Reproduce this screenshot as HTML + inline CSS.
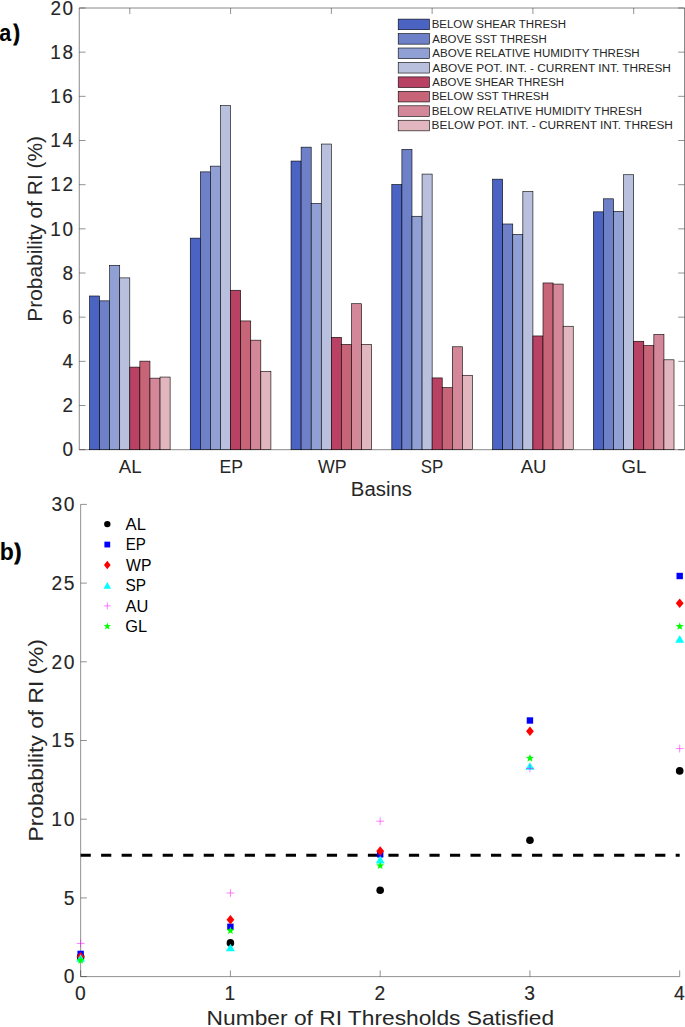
<!DOCTYPE html>
<html><head><meta charset="utf-8"><style>
html,body{margin:0;padding:0;background:#fff;overflow:hidden;width:685px;height:1027px;}
svg{display:block;font-family:"Liberation Sans",sans-serif;}
</style></head><body>
<svg width="685" height="1027" viewBox="0 0 685 1027">
<rect width="685" height="1027" fill="#fff"/>
<g stroke="#262626" stroke-width="0.5" fill="none">
<path d="M79.25 8 H684.5 M79.25 449.7 H684.5 M79.25 8 V449.7 M684.5 8 V449.7" stroke-width="0.55"/>
<path d="M79.25 449.70 h6.3 M684.5 449.70 h-6.3"/>
<path d="M79.25 405.53 h6.3 M684.5 405.53 h-6.3"/>
<path d="M79.25 361.36 h6.3 M684.5 361.36 h-6.3"/>
<path d="M79.25 317.19 h6.3 M684.5 317.19 h-6.3"/>
<path d="M79.25 273.02 h6.3 M684.5 273.02 h-6.3"/>
<path d="M79.25 228.85 h6.3 M684.5 228.85 h-6.3"/>
<path d="M79.25 184.68 h6.3 M684.5 184.68 h-6.3"/>
<path d="M79.25 140.51 h6.3 M684.5 140.51 h-6.3"/>
<path d="M79.25 96.34 h6.3 M684.5 96.34 h-6.3"/>
<path d="M79.25 52.17 h6.3 M684.5 52.17 h-6.3"/>
<path d="M79.25 8.00 h6.3 M684.5 8.00 h-6.3"/>
<path d="M129.80 8 v6 M129.80 449.7 v-6"/>
<path d="M230.58 8 v6 M230.58 449.7 v-6"/>
<path d="M331.36 8 v6 M331.36 449.7 v-6"/>
<path d="M432.14 8 v6 M432.14 449.7 v-6"/>
<path d="M532.92 8 v6 M532.92 449.7 v-6"/>
<path d="M633.70 8 v6 M633.70 449.7 v-6"/>
</g>
<g stroke="#000" stroke-width="0.6">
<rect x="89.48" y="295.99" width="10.08" height="153.71" fill="#4b64c3"/>
<rect x="99.56" y="300.85" width="10.08" height="148.85" fill="#6e80c8"/>
<rect x="109.64" y="265.29" width="10.08" height="184.41" fill="#91a0d4"/>
<rect x="119.72" y="277.88" width="10.08" height="171.82" fill="#b9c0de"/>
<rect x="129.80" y="367.10" width="10.08" height="82.60" fill="#b94164"/>
<rect x="139.88" y="361.14" width="10.08" height="88.56" fill="#c86478"/>
<rect x="149.96" y="378.14" width="10.08" height="71.56" fill="#d48798"/>
<rect x="160.04" y="377.04" width="10.08" height="72.66" fill="#e1b6be"/>
<rect x="190.26" y="238.13" width="10.08" height="211.57" fill="#4b64c3"/>
<rect x="200.34" y="171.87" width="10.08" height="277.83" fill="#6e80c8"/>
<rect x="210.42" y="166.13" width="10.08" height="283.57" fill="#91a0d4"/>
<rect x="220.50" y="105.62" width="10.08" height="344.08" fill="#b9c0de"/>
<rect x="230.58" y="290.25" width="10.08" height="159.45" fill="#b94164"/>
<rect x="240.66" y="320.94" width="10.08" height="128.76" fill="#c86478"/>
<rect x="250.74" y="340.16" width="10.08" height="109.54" fill="#d48798"/>
<rect x="260.82" y="371.30" width="10.08" height="78.40" fill="#e1b6be"/>
<rect x="291.04" y="161.05" width="10.08" height="288.65" fill="#4b64c3"/>
<rect x="301.12" y="147.14" width="10.08" height="302.56" fill="#6e80c8"/>
<rect x="311.20" y="203.45" width="10.08" height="246.25" fill="#91a0d4"/>
<rect x="321.28" y="144.04" width="10.08" height="305.66" fill="#b9c0de"/>
<rect x="331.36" y="337.29" width="10.08" height="112.41" fill="#b94164"/>
<rect x="341.44" y="344.35" width="10.08" height="105.35" fill="#c86478"/>
<rect x="351.52" y="303.72" width="10.08" height="145.98" fill="#d48798"/>
<rect x="361.60" y="344.35" width="10.08" height="105.35" fill="#e1b6be"/>
<rect x="391.82" y="184.46" width="10.08" height="265.24" fill="#4b64c3"/>
<rect x="401.90" y="149.34" width="10.08" height="300.36" fill="#6e80c8"/>
<rect x="411.98" y="216.26" width="10.08" height="233.44" fill="#91a0d4"/>
<rect x="422.06" y="174.08" width="10.08" height="275.62" fill="#b9c0de"/>
<rect x="432.14" y="377.92" width="10.08" height="71.78" fill="#b94164"/>
<rect x="442.22" y="387.64" width="10.08" height="62.06" fill="#c86478"/>
<rect x="452.30" y="346.78" width="10.08" height="102.92" fill="#d48798"/>
<rect x="462.38" y="375.27" width="10.08" height="74.43" fill="#e1b6be"/>
<rect x="492.60" y="179.16" width="10.08" height="270.54" fill="#4b64c3"/>
<rect x="502.68" y="223.99" width="10.08" height="225.71" fill="#6e80c8"/>
<rect x="512.76" y="234.37" width="10.08" height="215.33" fill="#91a0d4"/>
<rect x="522.84" y="191.53" width="10.08" height="258.17" fill="#b9c0de"/>
<rect x="532.92" y="335.96" width="10.08" height="113.74" fill="#b94164"/>
<rect x="543.00" y="282.96" width="10.08" height="166.74" fill="#c86478"/>
<rect x="553.08" y="284.06" width="10.08" height="165.64" fill="#d48798"/>
<rect x="563.16" y="326.24" width="10.08" height="123.46" fill="#e1b6be"/>
<rect x="593.38" y="211.84" width="10.08" height="237.86" fill="#4b64c3"/>
<rect x="603.46" y="198.81" width="10.08" height="250.89" fill="#6e80c8"/>
<rect x="613.54" y="211.40" width="10.08" height="238.30" fill="#91a0d4"/>
<rect x="623.62" y="174.74" width="10.08" height="274.96" fill="#b9c0de"/>
<rect x="633.70" y="341.26" width="10.08" height="108.44" fill="#b94164"/>
<rect x="643.78" y="345.46" width="10.08" height="104.24" fill="#c86478"/>
<rect x="653.86" y="334.42" width="10.08" height="115.28" fill="#d48798"/>
<rect x="663.94" y="359.81" width="10.08" height="89.89" fill="#e1b6be"/>
</g>
<g stroke="#000" stroke-width="0.6">
<rect x="398.2" y="19.10" width="31.2" height="10.6" fill="#4b64c3"/>
<rect x="398.2" y="33.55" width="31.2" height="10.6" fill="#6e80c8"/>
<rect x="398.2" y="48.00" width="31.2" height="10.6" fill="#91a0d4"/>
<rect x="398.2" y="62.45" width="31.2" height="10.6" fill="#b9c0de"/>
<rect x="398.2" y="76.90" width="31.2" height="10.6" fill="#b94164"/>
<rect x="398.2" y="91.35" width="31.2" height="10.6" fill="#c86478"/>
<rect x="398.2" y="105.80" width="31.2" height="10.6" fill="#d48798"/>
<rect x="398.2" y="120.25" width="31.2" height="10.6" fill="#e1b6be"/>
</g>
<text x="431.66" y="28.40" textLength="134.37" lengthAdjust="spacingAndGlyphs" font-size="11.63" font-weight="normal" fill="#262626">BELOW SHEAR THRESH</text>
<text x="432.28" y="42.81" textLength="114.45" lengthAdjust="spacingAndGlyphs" font-size="11.63" font-weight="normal" fill="#262626">ABOVE SST THRESH</text>
<text x="432.28" y="57.22" textLength="207.46" lengthAdjust="spacingAndGlyphs" font-size="11.63" font-weight="normal" fill="#262626">ABOVE RELATIVE HUMIDITY THRESH</text>
<text x="432.28" y="71.63" textLength="238.57" lengthAdjust="spacingAndGlyphs" font-size="11.63" font-weight="normal" fill="#262626">ABOVE POT. INT. - CURRENT INT. THRESH</text>
<text x="432.28" y="86.04" textLength="131.75" lengthAdjust="spacingAndGlyphs" font-size="11.63" font-weight="normal" fill="#262626">ABOVE SHEAR THRESH</text>
<text x="431.66" y="100.45" textLength="117.17" lengthAdjust="spacingAndGlyphs" font-size="11.63" font-weight="normal" fill="#262626">BELOW SST THRESH</text>
<text x="431.65" y="114.86" textLength="210.19" lengthAdjust="spacingAndGlyphs" font-size="11.63" font-weight="normal" fill="#262626">BELOW RELATIVE HUMIDITY THRESH</text>
<text x="431.64" y="129.27" textLength="241.30" lengthAdjust="spacingAndGlyphs" font-size="11.63" font-weight="normal" fill="#262626">BELOW POT. INT. - CURRENT INT. THRESH</text>
<text transform="translate(62.42 456.43) scale(1.0000 1.0600)" font-size="19.00" fill="#262626" stroke="#262626" stroke-width="0.12">0</text>
<text transform="translate(62.42 412.26) scale(1.0000 1.0600)" font-size="19.00" fill="#262626" stroke="#262626" stroke-width="0.12">2</text>
<text transform="translate(62.48 368.09) scale(1.0000 1.0600)" font-size="19.00" fill="#262626" stroke="#262626" stroke-width="0.12">4</text>
<text transform="translate(62.35 323.92) scale(1.0000 1.0600)" font-size="19.00" fill="#262626" stroke="#262626" stroke-width="0.12">6</text>
<text transform="translate(62.42 279.75) scale(1.0000 1.0600)" font-size="19.00" fill="#262626" stroke="#262626" stroke-width="0.12">8</text>
<text transform="translate(50.36 235.58) scale(1.0000 1.0600)" font-size="19.00" fill="#262626" stroke="#262626" stroke-width="0.12">1</text><text transform="translate(62.42 235.58) scale(1.0000 1.0600)" font-size="19.00" fill="#262626" stroke="#262626" stroke-width="0.12">0</text>
<text transform="translate(50.36 191.41) scale(1.0000 1.0600)" font-size="19.00" fill="#262626" stroke="#262626" stroke-width="0.12">1</text><text transform="translate(62.42 191.41) scale(1.0000 1.0600)" font-size="19.00" fill="#262626" stroke="#262626" stroke-width="0.12">2</text>
<text transform="translate(50.36 147.24) scale(1.0000 1.0600)" font-size="19.00" fill="#262626" stroke="#262626" stroke-width="0.12">1</text><text transform="translate(62.48 147.24) scale(1.0000 1.0600)" font-size="19.00" fill="#262626" stroke="#262626" stroke-width="0.12">4</text>
<text transform="translate(50.36 103.07) scale(1.0000 1.0600)" font-size="19.00" fill="#262626" stroke="#262626" stroke-width="0.12">1</text><text transform="translate(62.35 103.07) scale(1.0000 1.0600)" font-size="19.00" fill="#262626" stroke="#262626" stroke-width="0.12">6</text>
<text transform="translate(50.36 58.90) scale(1.0000 1.0600)" font-size="19.00" fill="#262626" stroke="#262626" stroke-width="0.12">1</text><text transform="translate(62.42 58.90) scale(1.0000 1.0600)" font-size="19.00" fill="#262626" stroke="#262626" stroke-width="0.12">8</text>
<text transform="translate(50.62 14.73) scale(1.0000 1.0600)" font-size="19.00" fill="#262626" stroke="#262626" stroke-width="0.12">2</text><text transform="translate(62.42 14.73) scale(1.0000 1.0600)" font-size="19.00" fill="#262626" stroke="#262626" stroke-width="0.12">0</text>
<text x="118.76" y="472.70" textLength="22.75" lengthAdjust="spacingAndGlyphs" font-size="18.90" font-weight="normal" fill="#262626">AL</text>
<text x="219.46" y="472.70" textLength="23.47" lengthAdjust="spacingAndGlyphs" font-size="18.90" font-weight="normal" fill="#262626">EP</text>
<text x="317.92" y="472.70" textLength="28.61" lengthAdjust="spacingAndGlyphs" font-size="18.90" font-weight="normal" fill="#262626">WP</text>
<text x="420.73" y="472.70" textLength="22.56" lengthAdjust="spacingAndGlyphs" font-size="18.90" font-weight="normal" fill="#262626">SP</text>
<text x="520.66" y="472.70" textLength="25.77" lengthAdjust="spacingAndGlyphs" font-size="18.90" font-weight="normal" fill="#262626">AU</text>
<text x="621.56" y="472.70" textLength="24.86" lengthAdjust="spacingAndGlyphs" font-size="18.90" font-weight="normal" fill="#262626">GL</text>
<text x="350.83" y="496.00" textLength="61.11" lengthAdjust="spacingAndGlyphs" font-size="19.33" font-weight="normal" fill="#262626">Basins</text>
<g transform="translate(41.7 320.0) rotate(-90)"><text x="-1.71" y="0.00" textLength="185.71" lengthAdjust="spacingAndGlyphs" font-size="19.48" font-weight="normal" fill="#262626">Probability of RI (%)</text></g>
<text transform="translate(-0.83 40.97) scale(0.21568 0.23547)" font-size="100" font-weight="bold" fill="#000">a</text>
<text transform="translate(13.68 40.15) scale(0.17716 0.21456)" font-size="100" font-weight="bold" fill="#000" stroke="#000" stroke-width="5.00">)</text>
<g stroke="#262626" stroke-width="0.5" fill="none">
<path d="M80.65 504.4 V976.6 H679.7"/>
<path d="M80.65 976.60 h6.2"/>
<path d="M80.65 897.90 h6.2"/>
<path d="M80.65 819.20 h6.2"/>
<path d="M80.65 740.50 h6.2"/>
<path d="M80.65 661.80 h6.2"/>
<path d="M80.65 583.10 h6.2"/>
<path d="M80.65 504.40 h6.2"/>
<path d="M80.65 976.6 v-6.2"/>
<path d="M230.41 976.6 v-6.2"/>
<path d="M380.18 976.6 v-6.2"/>
<path d="M529.94 976.6 v-6.2"/>
<path d="M679.70 976.6 v-6.2"/>
</g>
<line x1="80.6" y1="855.3" x2="679.7" y2="855.3" stroke="#000" stroke-width="3" stroke-dasharray="10.2 10.32"/>
<circle cx="80.65" cy="956.90" r="3.80" fill="#000"/>
<circle cx="230.41" cy="942.90" r="3.80" fill="#000"/>
<circle cx="380.18" cy="890.30" r="3.80" fill="#000"/>
<circle cx="529.94" cy="840.20" r="3.80" fill="#000"/>
<circle cx="679.70" cy="770.90" r="3.80" fill="#000"/>
<rect x="77.45" y="950.70" width="6.40" height="6.40" fill="#0000ff"/>
<rect x="227.21" y="923.60" width="6.40" height="6.40" fill="#0000ff"/>
<rect x="376.98" y="851.10" width="6.40" height="6.40" fill="#0000ff"/>
<rect x="526.74" y="717.30" width="6.40" height="6.40" fill="#0000ff"/>
<rect x="676.50" y="572.80" width="6.40" height="6.40" fill="#0000ff"/>
<path d="M80.65 951.90 L84.55 956.70 L80.65 961.50 L76.75 956.70 Z" fill="#ff0000"/>
<path d="M230.41 914.90 L234.31 919.70 L230.41 924.50 L226.51 919.70 Z" fill="#ff0000"/>
<path d="M380.18 846.30 L384.08 851.10 L380.18 855.90 L376.28 851.10 Z" fill="#ff0000"/>
<path d="M529.94 726.40 L533.84 731.20 L529.94 736.00 L526.04 731.20 Z" fill="#ff0000"/>
<path d="M679.70 598.40 L683.60 603.20 L679.70 608.00 L675.80 603.20 Z" fill="#ff0000"/>
<path d="M80.65 954.20 L85.15 961.80 L76.15 961.80 Z" fill="#00ffff"/>
<path d="M230.41 943.70 L234.91 951.30 L225.91 951.30 Z" fill="#00ffff"/>
<path d="M380.18 855.80 L384.68 863.40 L375.68 863.40 Z" fill="#00ffff"/>
<path d="M529.94 762.20 L534.44 769.80 L525.44 769.80 Z" fill="#00ffff"/>
<path d="M679.70 635.20 L684.20 642.80 L675.20 642.80 Z" fill="#00ffff"/>
<path d="M76.75 943.40 h7.80 M80.65 939.50 v7.80" stroke="#ff00ff" stroke-width="1" fill="none" opacity="0.5"/>
<path d="M226.51 893.00 h7.80 M230.41 889.10 v7.80" stroke="#ff00ff" stroke-width="1" fill="none" opacity="0.5"/>
<path d="M376.28 821.20 h7.80 M380.18 817.30 v7.80" stroke="#ff00ff" stroke-width="1" fill="none" opacity="0.5"/>
<path d="M526.04 768.50 h7.80 M529.94 764.60 v7.80" stroke="#ff00ff" stroke-width="1" fill="none" opacity="0.5"/>
<path d="M675.80 748.60 h7.80 M679.70 744.70 v7.80" stroke="#ff00ff" stroke-width="1" fill="none" opacity="0.5"/>
<polygon points="80.65,956.20 81.71,958.94 84.64,959.10 82.36,960.96 83.12,963.80 80.65,962.20 78.18,963.80 78.94,960.96 76.66,959.10 79.59,958.94" fill="#00ff00"/>
<polygon points="230.41,926.40 231.47,929.14 234.41,929.30 232.12,931.16 232.88,934.00 230.41,932.40 227.94,934.00 228.70,931.16 226.42,929.30 229.35,929.14" fill="#00ff00"/>
<polygon points="380.18,861.50 381.23,864.24 384.17,864.40 381.89,866.26 382.64,869.10 380.18,867.50 377.71,869.10 378.46,866.26 376.18,864.40 379.12,864.24" fill="#00ff00"/>
<polygon points="529.94,754.10 531.00,756.84 533.93,757.00 531.65,758.86 532.41,761.70 529.94,760.10 527.47,761.70 528.23,758.86 525.94,757.00 528.88,756.84" fill="#00ff00"/>
<polygon points="679.70,622.20 680.76,624.94 683.69,625.10 681.41,626.96 682.17,629.80 679.70,628.20 677.23,629.80 677.99,626.96 675.71,625.10 678.64,624.94" fill="#00ff00"/>
<circle cx="107.30" cy="524.10" r="3.20" fill="#000"/>
<text x="125.57" y="529.80" textLength="20.39" lengthAdjust="spacingAndGlyphs" font-size="17.30" font-weight="normal" fill="#000">AL</text>
<rect x="104.40" y="541.65" width="5.80" height="5.80" fill="#0000ff"/>
<text x="125.76" y="550.26" textLength="20.13" lengthAdjust="spacingAndGlyphs" font-size="17.30" font-weight="normal" fill="#000">EP</text>
<path d="M107.30 560.75 L110.65 565.00 L107.30 569.25 L103.95 565.00 Z" fill="#ff0000"/>
<text x="126.03" y="570.72" textLength="25.40" lengthAdjust="spacingAndGlyphs" font-size="17.30" font-weight="normal" fill="#000">WP</text>
<path d="M107.30 582.05 L111.00 588.85 L103.60 588.85 Z" fill="#00ffff"/>
<text x="125.40" y="591.18" textLength="20.51" lengthAdjust="spacingAndGlyphs" font-size="17.30" font-weight="normal" fill="#000">SP</text>
<path d="M103.80 605.90 h7.00 M107.30 602.40 v7.00" stroke="#ff00ff" stroke-width="1" fill="none" opacity="0.5"/>
<text x="125.57" y="611.64" textLength="22.80" lengthAdjust="spacingAndGlyphs" font-size="17.30" font-weight="normal" fill="#000">AU</text>
<polygon points="107.30,622.55 108.24,625.06 110.91,625.18 108.82,626.84 109.53,629.42 107.30,627.95 105.07,629.42 105.78,626.84 103.69,625.18 106.36,625.06" fill="#00ff00"/>
<text x="125.28" y="632.10" textLength="21.87" lengthAdjust="spacingAndGlyphs" font-size="17.30" font-weight="normal" fill="#000">GL</text>
<text transform="translate(63.63 983.47) scale(1.0000 1.0500)" font-size="19.30" fill="#262626" stroke="#262626" stroke-width="0.12">0</text>
<text transform="translate(63.65 904.77) scale(1.0000 1.0500)" font-size="19.30" fill="#262626" stroke="#262626" stroke-width="0.12">5</text>
<text transform="translate(51.17 826.07) scale(1.0000 1.0500)" font-size="19.30" fill="#262626" stroke="#262626" stroke-width="0.12">1</text><text transform="translate(63.63 826.07) scale(1.0000 1.0500)" font-size="19.30" fill="#262626" stroke="#262626" stroke-width="0.12">0</text>
<text transform="translate(51.17 747.37) scale(1.0000 1.0500)" font-size="19.30" fill="#262626" stroke="#262626" stroke-width="0.12">1</text><text transform="translate(63.65 747.37) scale(1.0000 1.0500)" font-size="19.30" fill="#262626" stroke="#262626" stroke-width="0.12">5</text>
<text transform="translate(51.43 668.67) scale(1.0000 1.0500)" font-size="19.30" fill="#262626" stroke="#262626" stroke-width="0.12">2</text><text transform="translate(63.63 668.67) scale(1.0000 1.0500)" font-size="19.30" fill="#262626" stroke="#262626" stroke-width="0.12">0</text>
<text transform="translate(51.43 589.97) scale(1.0000 1.0500)" font-size="19.30" fill="#262626" stroke="#262626" stroke-width="0.12">2</text><text transform="translate(63.65 589.97) scale(1.0000 1.0500)" font-size="19.30" fill="#262626" stroke="#262626" stroke-width="0.12">5</text>
<text transform="translate(51.49 511.27) scale(1.0000 1.0500)" font-size="19.30" fill="#262626" stroke="#262626" stroke-width="0.12">3</text><text transform="translate(63.63 511.27) scale(1.0000 1.0500)" font-size="19.30" fill="#262626" stroke="#262626" stroke-width="0.12">0</text>
<text transform="translate(74.98 999.97) scale(1.0000 1.0500)" font-size="19.30" fill="#262626" stroke="#262626" stroke-width="0.12">0</text>
<text transform="translate(224.48 999.97) scale(1.0000 1.0500)" font-size="19.30" fill="#262626" stroke="#262626" stroke-width="0.12">1</text>
<text transform="translate(374.51 999.97) scale(1.0000 1.0500)" font-size="19.30" fill="#262626" stroke="#262626" stroke-width="0.12">2</text>
<text transform="translate(524.33 999.97) scale(1.0000 1.0500)" font-size="19.30" fill="#262626" stroke="#262626" stroke-width="0.12">3</text>
<text transform="translate(674.09 999.97) scale(1.0000 1.0500)" font-size="19.30" fill="#262626" stroke="#262626" stroke-width="0.12">4</text>
<text x="206.64" y="1025.30" textLength="347.43" lengthAdjust="spacingAndGlyphs" font-size="19.62" font-weight="normal" fill="#262626">Number of RI Thresholds Satisfied</text>
<g transform="translate(42.6 839.6) rotate(-90)"><text x="-1.87" y="0.00" textLength="202.38" lengthAdjust="spacingAndGlyphs" font-size="20.78" font-weight="normal" fill="#262626">Probability of RI (%)</text></g>
<text transform="translate(-0.32 560.17) scale(0.23020 0.23285)" font-size="100" font-weight="bold" fill="#000">b</text>
<text transform="translate(14.78 559.39) scale(0.19134 0.21242)" font-size="100" font-weight="bold" fill="#000" stroke="#000" stroke-width="5.00">)</text>
</svg>
</body></html>
